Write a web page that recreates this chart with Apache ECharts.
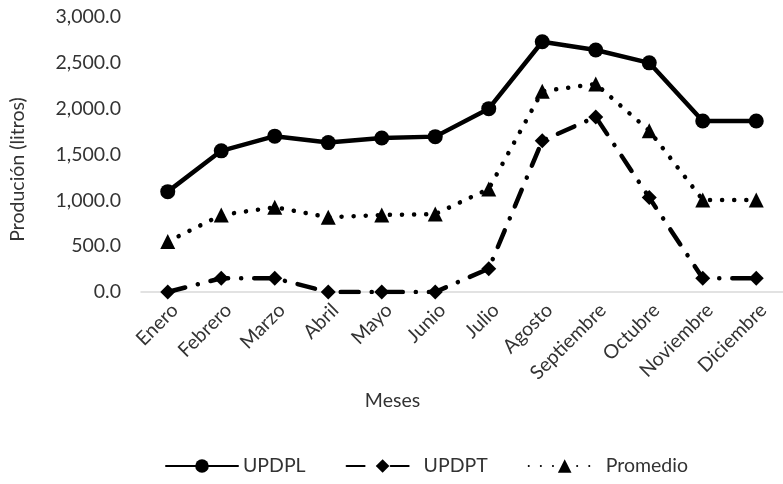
<!DOCTYPE html>
<html>
<head>
<meta charset="utf-8">
<script src="https://cdn.jsdelivr.net/npm/echarts@6/dist/echarts.min.js"></script>
<style>
html,body{margin:0;padding:0;background:#fff;}
#chart{width:783px;height:484px;}
</style>
</head>
<body>
<div id="chart"></div>
<script>
const categories = ['Enero','Febrero','Marzo','Abril','Mayo','Junio','Julio','Agosto','Septiembre','Octubre','Noviembre','Diciembre'];
const updpl = [1095, 1540, 1700, 1630, 1680, 1695, 2000, 2730, 2640, 2500, 1865, 1865];
const updpt = [0, 150, 150, 0, 0, 0, 255, 1650, 1910, 1030, 150, 150];
const promedio = [550, 840, 925, 815, 840, 850, 1125, 2190, 2270, 1760, 1005, 1005];
const yTicks = [0, 500, 1000, 1500, 2000, 2500, 3000];

const FONT = 'Lato';
const FS = 19.5;
const TXT = '#333333';

function fmt(v){
  const s = v.toFixed(1);
  const parts = s.split('.');
  parts[0] = parts[0].replace(/\B(?=(\d{3})+(?!\d))/g, ',');
  return parts.join('.');
}

const chart = echarts.init(document.getElementById('chart'), null, {renderer:'canvas'});
chart.setOption({
  backgroundColor:'#ffffff',
  animation:false,
  textStyle:{fontFamily:FONT},
  grid:{left:141, right:-9, top:17, bottom:192, containLabel:false},
  legend:{
    left:160, top:451,
    itemWidth:72, itemHeight:17, itemGap:40,
    textStyle:{fontFamily:FONT, fontSize:FS, color:TXT},
    data:['UPDPL','UPDPT','Promedio']
  },
  xAxis:{
    type:'category',
    data:categories,
    boundaryGap:true,
    name:'Meses',
    nameLocation:'middle',
    nameGap:98,
    nameTextStyle:{fontFamily:FONT, fontSize:FS, color:TXT, padding:[0,139,0,0]},
    axisLine:{lineStyle:{color:'#d9d9d9', width:1.5}},
    axisTick:{show:false},
    axisLabel:{rotate:45, margin:8, verticalAlign:'top', fontFamily:FONT, fontSize:FS, color:TXT, interval:0}
  },
  yAxis:{
    type:'value',
    min:yTicks[0], max:yTicks[yTicks.length-1], interval:500,
    name:'Produción (litros)',
    nameLocation:'middle',
    nameGap:113,
    nameTextStyle:{fontFamily:FONT, fontSize:FS, color:TXT, padding:[0,30,0,0]},
    axisLine:{show:false},
    axisTick:{show:false},
    splitLine:{show:false},
    axisLabel:{margin:20, fontFamily:FONT, fontSize:FS, color:TXT, formatter:fmt}
  },
  series:[
    {
      name:'UPDPL', type:'line', data:updpl,
      symbol:'circle', symbolSize:15,
      lineStyle:{color:'#000', width:4.5, cap:'round', join:'round'},
      itemStyle:{color:'#000'}
    },
    {
      name:'UPDPT', type:'line', data:updpt,
      symbol:'diamond', symbolSize:15,
      lineStyle:{color:'#000', width:4.5, type:[18,13,0.1,13], cap:'round', join:'round'},
      itemStyle:{color:'#000'}
    },
    {
      name:'Promedio', type:'line', data:promedio,
      symbol:'triangle', symbolSize:15,
      lineStyle:{color:'#000', width:4.5, type:[0.1,12], cap:'round', join:'round'},
      itemStyle:{color:'#000'}
    }
  ]
});
</script>
</body>
</html>
